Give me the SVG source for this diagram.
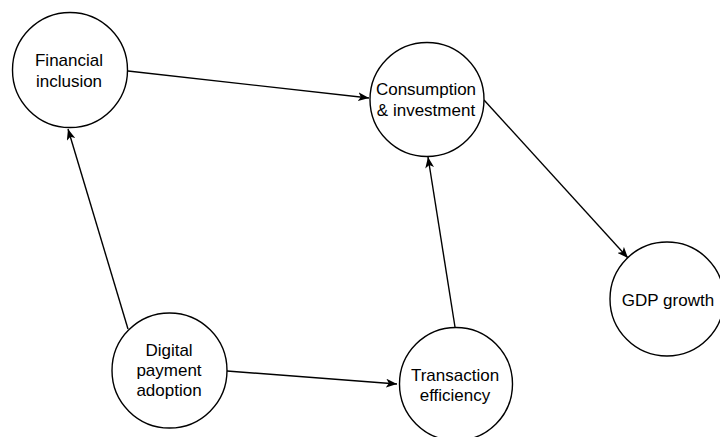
<svg xmlns="http://www.w3.org/2000/svg" width="720" height="437" viewBox="0 0 720 437">
<style>
.node circle{fill:#fff;stroke:#000;stroke-width:1.4}
.node text{font-family:"Liberation Sans",Arial,sans-serif;font-size:17px;fill:#000;text-anchor:middle}
.edge{stroke:#000;stroke-width:1.4;fill:none;marker-end:url(#arr)}
</style>
<defs>
<marker id="arr" viewBox="0 0 11 9" refX="11" refY="4.5" markerUnits="userSpaceOnUse" markerWidth="11" markerHeight="9" orient="auto">
<path d="M0,0 L11,4.5 L0,9 L2.8,4.5 Z" fill="#000"/>
</marker>
</defs>
<rect width="720" height="437" fill="#fff"/>
<g id="connectors">
<line class="edge" x1="128" y1="71" x2="369" y2="98"/>
<line class="edge" x1="128" y1="329" x2="68" y2="129"/>
<line class="edge" x1="227" y1="371" x2="397" y2="384"/>
<line class="edge" x1="455" y1="327" x2="428" y2="157"/>
<line class="edge" x1="484" y1="100" x2="628" y2="258"/>
</g>
<g id="financial-inclusion" class="node">
<circle cx="70" cy="70" r="57.5"/>
<text x="69" y="66">Financial</text>
<text x="69" y="86.5">inclusion</text>
</g>
<g id="consumption-investment" class="node">
<circle cx="427" cy="99.5" r="57"/>
<text x="426" y="95">Consumption</text>
<text x="426" y="115.5">&amp; investment</text>
</g>
<g id="gdp-growth" class="node">
<circle cx="667" cy="299" r="57"/>
<text x="668" y="305.5">GDP growth</text>
</g>
<g id="digital-payment-adoption" class="node">
<circle cx="169.5" cy="370.5" r="57.5"/>
<text x="169" y="356">Digital</text>
<text x="169" y="376">payment</text>
<text x="169" y="396">adoption</text>
</g>
<g id="transaction-efficiency" class="node">
<circle cx="456" cy="384" r="56.5"/>
<text x="455" y="380.5">Transaction</text>
<text x="455" y="401">efficiency</text>
</g>
</svg>
